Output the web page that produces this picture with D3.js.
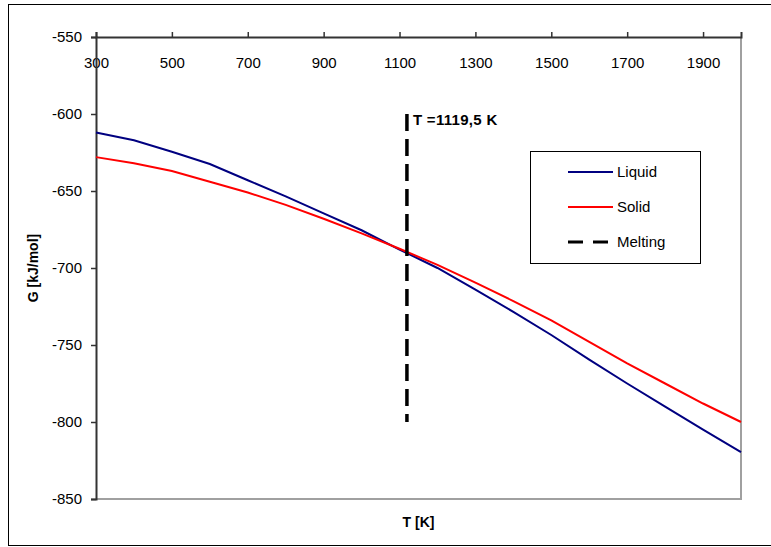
<!DOCTYPE html>
<html>
<head>
<meta charset="utf-8">
<script src="https://cdn.jsdelivr.net/npm/d3@7"></script>
<style>
  body { margin: 0; background: #fff; }
  svg text { font-family: "Liberation Sans", Arial, sans-serif; }
</style>
</head>
<body>
<div id="chart"></div>
<script>
const width = 771, height = 547;

// temperatures (K) and Gibbs energies (kJ/mol)
const temps = [300, 400, 500, 600, 700, 800, 900, 1000, 1100, 1200, 1300, 1400, 1500, 1600, 1700, 1800, 1900, 2000];
const liquid = [-612, -617, -624.5, -632.5, -643, -653.5, -664.5, -675.5, -688, -700, -714, -728.5, -743.5, -759.5, -775, -790, -805, -819.5];
const solid = [-628, -632, -637, -644, -651, -659, -668, -677.5, -687.5, -698, -709.5, -721.5, -734, -748, -762, -775, -788, -800];
const meltT = 1119.5;
const meltRange = [-600, -800];
const xTicks = [300, 500, 700, 900, 1100, 1300, 1500, 1700, 1900];
const yTicks = [-550, -600, -650, -700, -750, -800, -850];

const margin = {top: 37, right: 30, bottom: 47, left: 96};
const fmt = d => String(d);   // plain hyphen minus, no thousands separator

const svg = d3.select("#chart").append("svg")
    .attr("width", width).attr("height", height);

// outer chart frame
svg.append("rect")
    .attr("x", 8.5).attr("y", 4.5)
    .attr("width", width + 10).attr("height", 541)
    .attr("fill", "#fff").attr("stroke", "#000").attr("stroke-width", 1);

const x = d3.scaleLinear().domain([300, 2000]).range([margin.left, width - margin.right]);
const y = d3.scaleLinear().domain([-550, -850]).range([margin.top, height - margin.bottom - 1]);

// plot area border (right / bottom grey)
svg.append("path")
    .attr("d", `M${x(300)},${y(-850)}H${x(2000)}V${y(-550)}`)
    .attr("fill", "none").attr("stroke", "#a0a0a0").attr("stroke-width", 2);

// axes
const xAxis = svg.append("g")
    .attr("transform", `translate(0,${y(-550)})`)
    .call(d3.axisTop(x).tickValues(xTicks).tickFormat(fmt).tickSize(5).tickPadding(0));
xAxis.selectAll("text")
    .attr("dy", 0).attr("y", 31)
    .attr("font-size", 15).attr("fill", "#000");

const yAxis = svg.append("g")
    .attr("transform", `translate(${x(300)},0)`)
    .call(d3.axisLeft(y).tickValues(yTicks).tickFormat(fmt).tickSize(5).tickPadding(9));
yAxis.selectAll("text").attr("font-size", 15).attr("fill", "#000");

[xAxis, yAxis].forEach(a => {
    a.select(".domain").attr("stroke", "#333").attr("stroke-width", 2);
    a.selectAll(".tick line").attr("stroke", "#333").attr("stroke-width", 1.5);
    a.attr("font-family", null);
});

// series
const line = d3.line().x(d => x(d[0])).y(d => y(d[1]));
svg.append("path")
    .datum(temps.map((t, i) => [t, liquid[i]]))
    .attr("d", line).attr("fill", "none")
    .attr("stroke", "#000080").attr("stroke-width", 2);
svg.append("path")
    .datum(temps.map((t, i) => [t, solid[i]]))
    .attr("d", line).attr("fill", "none")
    .attr("stroke", "#ff0000").attr("stroke-width", 2);

// melting line
svg.append("line")
    .attr("x1", x(meltT)).attr("x2", x(meltT))
    .attr("y1", y(meltRange[0])).attr("y2", y(meltRange[1]))
    .attr("stroke", "#000").attr("stroke-width", 3.5)
    .attr("stroke-dasharray", "17,8");

svg.append("text")
    .attr("x", x(meltT) + 6).attr("y", y(meltRange[0]) + 11)
    .attr("font-size", 15).attr("font-weight", "bold")
    .attr("letter-spacing", 0.3)
    .text("T =1119,5 K");

// legend
const legend = svg.append("g").attr("transform", "translate(530,151)");
legend.append("rect")
    .attr("x", 0.5).attr("y", 0.5).attr("width", 170).attr("height", 112)
    .attr("fill", "#fff").attr("stroke", "#000").attr("stroke-width", 1);
const items = [
    {name: "Liquid", color: "#000080", dash: null, w: 2},
    {name: "Solid", color: "#ff0000", dash: null, w: 2},
    {name: "Melting", color: "#000", dash: "15,10", w: 3}
];
items.forEach((d, i) => {
    const yy = 21 + i * 35;
    legend.append("line")
        .attr("x1", 38).attr("x2", 83).attr("y1", yy).attr("y2", yy)
        .attr("stroke", d.color).attr("stroke-width", d.w)
        .attr("stroke-dasharray", d.dash);
    legend.append("text")
        .attr("x", 87).attr("y", yy + 5)
        .attr("font-size", 15).text(d.name);
});

// axis titles
svg.append("text")
    .attr("x", (x(300) + x(2000)) / 2).attr("y", 527)
    .attr("text-anchor", "middle").attr("font-size", 14).attr("font-weight", "bold")
    .text("T [K]");
svg.append("text")
    .attr("transform", `translate(38,${(y(-550) + y(-850)) / 2}) rotate(-90)`)
    .attr("text-anchor", "middle").attr("font-size", 14).attr("font-weight", "bold")
    .text("G [kJ/mol]");
</script>
</body>
</html>
